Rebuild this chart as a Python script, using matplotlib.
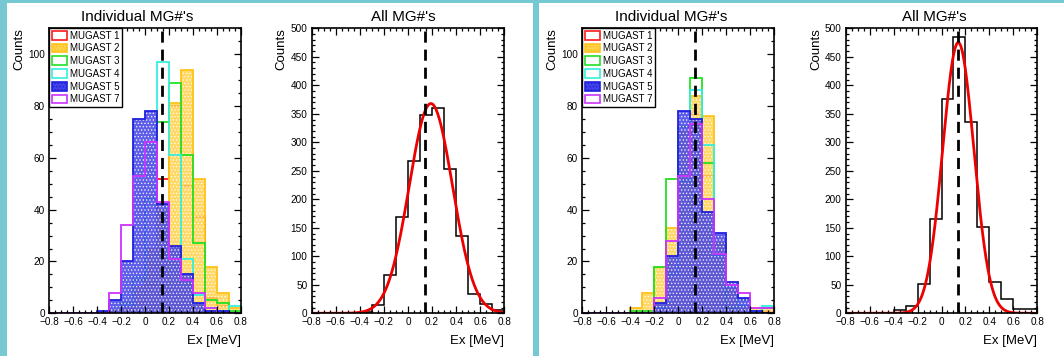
import numpy as np
import matplotlib
matplotlib.use("Agg")
import matplotlib.pyplot as plt
from matplotlib.patches import Patch, Rectangle
from matplotlib.ticker import MultipleLocator, FuncFormatter

plt.rcParams['font.family'] = ['Liberation Sans', 'DejaVu Sans']
plt.rcParams['hatch.linewidth'] = 0.6

# bin edges of Ex [MeV]
edges = [-0.8, -0.7, -0.6, -0.5, -0.4, -0.3, -0.2, -0.1, 0.0,
         0.1, 0.2, 0.3, 0.4, 0.5, 0.6, 0.7, 0.8]

labels = ['MUGAST 1', 'MUGAST 2', 'MUGAST 3', 'MUGAST 4', 'MUGAST 5', 'MUGAST 7']

# first setting
a_mg1 = [0, 0, 0, 0, 0, 0, 2, 4, 11, 52, 80, 49, 37, 6, 3, 1]
a_mg2 = [0, 0, 0, 0, 0, 1, 3, 10, 25, 40, 81, 94, 52, 18, 8, 2]
a_mg3 = [0, 0, 0, 0, 0, 0, 4, 13, 44, 74, 89, 61, 27, 5, 4, 1]
a_mg4 = [0, 0, 0, 0, 0, 0, 3, 14, 44, 97, 61, 21, 7, 2, 1, 3]
a_mg5 = [0, 0, 0, 0, 1, 5, 20, 75, 78, 42, 26, 15, 4, 1, 1, 0]
a_mg7 = [0, 0, 0, 0, 0, 8, 34, 53, 66, 43, 21, 13, 8, 2, 0, 0]
a_all = [0, 0, 0, 0, 2, 14, 67, 169, 268, 348, 360, 253, 135, 34, 17, 5]
a_fit = (368, 0.19, 0.18)   # amplitude, mean, sigma

# second setting
b_mg1 = [0, 0, 0, 0, 0, 0, 2, 16, 52, 77, 53, 27, 8, 3, 1, 1]
b_mg2 = [0, 0, 0, 0, 2, 8, 18, 33, 70, 84, 76, 27, 10, 3, 2, 2]
b_mg3 = [0, 0, 0, 0, 1, 1, 18, 52, 72, 91, 58, 22, 2, 5, 0, 2]
b_mg4 = [0, 0, 0, 0, 0, 0, 2, 15, 51, 86, 65, 22, 10, 3, 1, 3]
b_mg5 = [0, 0, 0, 0, 0, 0, 4, 22, 78, 75, 39, 31, 12, 6, 1, 0]
b_mg7 = [0, 0, 0, 0, 0, 0, 6, 28, 53, 73, 44, 23, 11, 8, 2, 2]
b_all = [0, 0, 0, 0, 5, 12, 51, 166, 376, 485, 335, 151, 55, 25, 7, 7]
b_fit = (475, 0.14, 0.13)

ex_ref = 0.14

colors = ['#ff1a1a', '#ffc21a', '#22e022', '#33f0dd', '#2020e0', '#cc33ff']
filled = [False, True, False, False, True, False]
fillcol = [None, '#ffd24a', None, None, '#4040e6', None]


def tick_fmt(v, pos):
    s = '%g' % round(v, 2)
    return s.replace('-', '\u2212')


def style_axes(ax, ymax, ymaj, ymin):
    ax.set_xlim(-0.8, 0.8)
    ax.set_ylim(0, ymax)
    ax.xaxis.set_major_locator(MultipleLocator(0.2))
    ax.xaxis.set_minor_locator(MultipleLocator(0.05))
    ax.yaxis.set_major_locator(MultipleLocator(ymaj))
    ax.yaxis.set_minor_locator(MultipleLocator(ymin))
    ax.xaxis.set_major_formatter(FuncFormatter(tick_fmt))
    ax.tick_params(which='both', direction='in', top=True, right=True,
                   labelsize=7.2, width=0.9, pad=3)
    ax.tick_params(which='major', length=5)
    ax.tick_params(which='minor', length=2.5)
    for sp in ax.spines.values():
        sp.set_linewidth(1.2)
    ax.text(-0.155, 1.0, 'Counts', transform=ax.transAxes, rotation=90,
            ha='center', va='top', fontsize=9.5)
    ax.text(1.0, -0.075, 'Ex [MeV]', transform=ax.transAxes,
            ha='right', va='top', fontsize=9.5)


def draw_individual(ax, series):
    for vals, c, f, fc in zip(series, colors, filled, fillcol):
        if f:
            ax.stairs(vals, edges, baseline=0, fill=True, facecolor=fc,
                      edgecolor='white', hatch='.....', linewidth=0, alpha=0.85)
        ax.stairs(vals, edges, baseline=0, color=c, linewidth=1.3)
    ax.axvline(ex_ref, color='black', lw=2, dashes=(4, 2.5))
    style_axes(ax, 110, 20, 5)
    handles = []
    for c, f, fc in zip(colors, filled, fillcol):
        if f:
            handles.append(Patch(facecolor=fc, edgecolor=c, hatch='.....', linewidth=1.2))
        else:
            handles.append(Patch(facecolor='white', edgecolor=c, linewidth=1.2))
    leg = ax.legend(handles, labels, loc='upper left', bbox_to_anchor=(0, 1),
                    borderaxespad=0, fontsize=7, frameon=True, fancybox=False,
                    handlelength=1.6, handleheight=1.0, handletextpad=0.3,
                    labelspacing=0.28, borderpad=0.25)
    leg.get_frame().set_edgecolor('black')
    leg.get_frame().set_linewidth(1.0)
    leg.get_frame().set_alpha(1)


def draw_all(ax, vals, fit):
    ax.stairs(vals, edges, baseline=0, color='black', linewidth=1.1)
    amp, mu, sig = fit
    xx = np.linspace(-0.8, 0.8, 400)
    ax.plot(xx, amp * np.exp(-0.5 * ((xx - mu) / sig) ** 2), color='#ee0000', lw=2)
    ax.axvline(ex_ref, color='black', lw=2, dashes=(4, 2.5))
    style_axes(ax, 500, 50, 10)


fig = plt.figure(figsize=(10.64, 3.56), dpi=100)
fig.patch.set_facecolor('#76c9d3')
W, H = 1064.0, 356.0
fig.patches.append(Rectangle((7 / W, 0), (533 - 7) / W, (356 - 3) / H,
                             transform=fig.transFigure, facecolor='white',
                             edgecolor='none', zorder=-10))
fig.patches.append(Rectangle((539 / W, 0), (1064 - 539) / W, (356 - 3) / H,
                             transform=fig.transFigure, facecolor='white',
                             edgecolor='none', zorder=-10))

bottom = 1 - 313.3 / H
height = (313.3 - 28.3) / H
lefts = [49.3, 311.7, 582.3, 845.7]
rights = [241.0, 504.3, 774.3, 1037.3]
axs = [fig.add_axes([l / W, bottom, (r - l) / W, height]) for l, r in zip(lefts, rights)]

draw_individual(axs[0], [a_mg1, a_mg2, a_mg3, a_mg4, a_mg5, a_mg7])
draw_all(axs[1], a_all, a_fit)
draw_individual(axs[2], [b_mg1, b_mg2, b_mg3, b_mg4, b_mg5, b_mg7])
draw_all(axs[3], b_all, b_fit)

titles = ["Individual MG#'s", "All MG#'s", "Individual MG#'s", "All MG#'s"]
centers = [137, 403, 671, 934]
for t, cx in zip(titles, centers):
    fig.text(cx / W, 1 - 17 / H, t, ha='center', va='center', fontsize=11)

fig.savefig('out.png', dpi=100, facecolor=fig.get_facecolor())
